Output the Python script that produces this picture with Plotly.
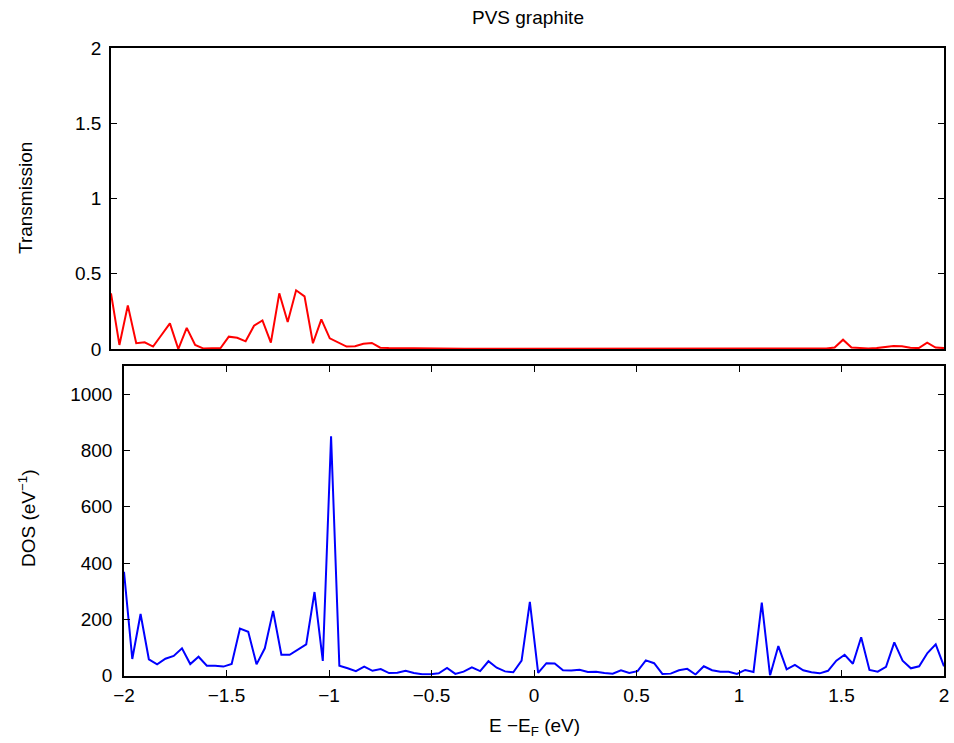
import numpy as np
import plotly.graph_objects as go

W, H = 954, 743

energy = np.linspace(-2, 2, 100)

transmission = [
    0.37, 0.027, 0.29, 0.038, 0.044, 0.016, 0.093, 0.17, 0.0, 0.14,
    0.027, 0.003, 0.005, 0.005, 0.082, 0.075, 0.051, 0.155, 0.19, 0.042,
    0.37, 0.18, 0.39, 0.35, 0.038, 0.197, 0.071, 0.042, 0.016, 0.018,
    0.035, 0.040, 0.009, 0.007, 0.006, 0.004, 0.003, 0.002, 0.002, 0.001,
    0.001, 0.001, 0.001, 0.001, 0.001, 0.001, 0.001, 0.001, 0.001, 0.001,
    0.001, 0.001, 0.001, 0.001, 0.001, 0.002, 0.002, 0.001, 0.002, 0.003,
    0.002, 0.001, 0.001, 0.001, 0.002, 0.002, 0.001, 0.001, 0.001, 0.002,
    0.002, 0.002, 0.001, 0.001, 0.001, 0.002, 0.003, 0.006, 0.002, 0.001,
    0.001, 0.002, 0.002, 0.001, 0.002, 0.003, 0.010, 0.062, 0.010, 0.006,
    0.004, 0.006, 0.014, 0.020, 0.018, 0.008, 0.006, 0.042, 0.010, 0.006,
]

dos = [
    369, 59, 219, 58, 40, 60, 70, 97, 41, 67,
    35, 35, 32, 41, 167, 156, 40, 97, 230, 74,
    74, 93, 111, 297, 52, 850, 35, 26, 16, 32,
    17, 23, 9, 10, 17, 9, 5, 5, 8, 27,
    6, 14, 29, 16, 51, 28, 15, 12, 53, 262,
    10, 44, 43, 19, 18, 21, 13, 14, 9, 7,
    19, 9, 16, 54, 44, 6, 7, 19, 24, 4,
    33, 19, 14, 14, 6, 20, 13, 259, 0, 105,
    22, 38, 19, 12, 8, 17, 53, 74, 42, 136,
    20, 14, 31, 118, 53, 26, 33, 80, 111, 33,
]

x_ticks = [-2, -1.5, -1, -0.5, 0, 0.5, 1, 1.5, 2]
x_ticktext = ["\u22122", "\u22121.5", "\u22121", "\u22120.5", "0", "0.5", "1", "1.5", "2"]
t_ticks = [0, 0.5, 1, 1.5, 2]
t_ticktext = ["0", "0.5", "1", "1.5", "2"]
d_ticks = [0, 200, 400, 600, 800, 1000]
d_ticktext = ["0", "200", "400", "600", "800", "1000"]

FONT = "Liberation Sans"
FS = 19

def px_x(p):
    return p / W

def px_y(p):
    return 1 - p / H

fig = go.Figure()
fig.add_trace(go.Scatter(x=energy, y=transmission, mode="lines",
                         line=dict(color="#ff0000", width=2),
                         xaxis="x", yaxis="y", showlegend=False))
fig.add_trace(go.Scatter(x=energy, y=dos, mode="lines",
                         line=dict(color="#0000ff", width=2),
                         xaxis="x2", yaxis="y2", showlegend=False))

axis_common = dict(showline=True, linecolor="black", linewidth=1.5,
                   showgrid=False, zeroline=False, automargin=False,
                   tickfont=dict(family=FONT, size=FS, color="black"))

fig.update_layout(
    width=W, height=H,
    margin=dict(l=0, r=0, t=0, b=0, pad=0, autoexpand=False),
    paper_bgcolor="white", plot_bgcolor="white",
    xaxis=dict(domain=[px_x(111), px_x(944)], range=[-2, 2], anchor="y",
               ticks="", showticklabels=False, mirror=True, **axis_common),
    yaxis=dict(domain=[px_y(349), px_y(48)], range=[0, 2], anchor="x",
               tickmode="array", tickvals=t_ticks, ticktext=t_ticktext,
               ticks="inside", ticklen=6, tickwidth=1, tickcolor="black",
               ticklabelstandoff=4, mirror="allticks", **axis_common),
    xaxis2=dict(domain=[px_x(124), px_x(944)], range=[-2, 2], anchor="y2",
                tickmode="array", tickvals=x_ticks, ticktext=x_ticktext,
                ticks="inside", ticklen=6, tickwidth=1, tickcolor="black",
                ticklabelstandoff=2, mirror="allticks", **axis_common),
    yaxis2=dict(domain=[px_y(675.6), px_y(366)], range=[0, 1100], anchor="x2",
                tickmode="array", tickvals=d_ticks, ticktext=d_ticktext,
                ticks="inside", ticklen=6, tickwidth=1, tickcolor="black",
                ticklabelstandoff=6, mirror="allticks", **axis_common),
    annotations=[
        dict(text="PVS graphite", x=px_x(528), y=px_y(17), xref="paper", yref="paper",
             showarrow=False, xanchor="center", yanchor="middle",
             font=dict(family=FONT, size=FS, color="black")),
        dict(text="Transmission", x=px_x(25), y=px_y(198), xref="paper", yref="paper",
             showarrow=False, xanchor="center", yanchor="middle", textangle=-90,
             font=dict(family=FONT, size=FS, color="black")),
        dict(text="DOS (eV<sup>\u22121</sup>)", x=px_x(27), y=px_y(518), xref="paper", yref="paper",
             showarrow=False, xanchor="center", yanchor="middle", textangle=-90,
             font=dict(family=FONT, size=FS, color="black")),
        dict(text="E \u2212E<sub>F</sub> (eV)", x=px_x(534), y=px_y(727), xref="paper", yref="paper",
             showarrow=False, xanchor="center", yanchor="middle",
             font=dict(family=FONT, size=FS, color="black")),
    ],
)

fig.write_html("out.html")
